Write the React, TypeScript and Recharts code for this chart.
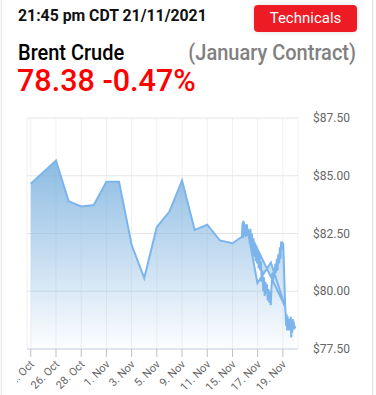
import React from 'react';
import { AreaChart, Area, XAxis, YAxis, CartesianGrid } from 'recharts';

const xTicks = [0, 2, 4, 6, 8, 10, 12, 14, 16, 18, 20];
const xTickLabels = ['24. Oct', '26. Oct', '28. Oct', '1. Nov', '3. Nov', '5. Nov', '9. Nov', '11. Nov', '15. Nov', '17. Nov', '19. Nov'];
const yTicks = [77.5, 80, 82.5, 85, 87.5];

// daily closes (trading-day index, price)
const dailyX = [0, 2, 3, 4, 5, 6, 7, 8, 9, 10, 11, 12, 13, 14, 15, 16, 16.75];
const dailyPrice = [84.65, 85.66, 83.9, 83.67, 83.73, 84.74, 84.74, 82.01, 80.57, 82.78, 83.45, 84.8, 82.66, 82.88, 82.2, 82.08, 82.36];

// intraday ticks, first burst
const burstX = [16.8, 16.83, 16.86, 16.89, 16.92, 16.95, 16.99, 17.03, 17.07, 17.11, 17.15, 17.19, 17.23, 17.27];
const burstPrice = [82.95, 82.3, 83.05, 82.5, 83.0, 82.4, 82.9, 82.35, 82.85, 82.45, 82.9, 82.4, 82.7, 82.45];

// later daily closes
const lateX = [17.98, 19.05, 20.18];
const latePrice = [80.35, 81.24, 79.34];

// intraday ticks, remaining session
const tickX = [17.3, 17.36, 17.42, 17.48, 17.54, 17.6, 17.66, 17.72, 17.78, 17.84, 17.9, 17.96, 18.02, 18.08, 18.14, 18.2, 18.26, 18.32, 18.38, 18.44, 18.5, 18.56, 18.62, 18.68, 18.74, 18.8, 18.86, 18.92, 18.98, 19.04, 19.1, 19.16, 19.22, 19.28, 19.34, 19.4, 19.46, 19.52, 19.58, 19.64, 19.7, 19.76, 19.82, 19.86, 19.9, 19.94, 19.98, 20.02, 20.06, 20.1, 20.14, 20.18, 20.22, 20.26, 20.3, 20.34, 20.38, 20.42, 20.46, 20.5, 20.54, 20.58, 20.62, 20.66, 20.7, 20.74, 20.78, 20.82, 20.86, 20.9, 20.94, 20.98];
const tickPrice = [82.6, 82.1, 82.7, 82.0, 82.5, 81.7, 82.3, 81.5, 82.1, 81.3, 81.9, 81.2, 81.7, 81.0, 81.6, 80.9, 81.3, 80.4, 80.9, 80.0, 80.6, 79.8, 80.4, 79.9, 80.3, 79.6, 80.1, 79.5, 80.0, 79.4, 80.2, 80.8, 80.4, 81.0, 80.6, 81.2, 80.8, 81.4, 80.9, 81.6, 81.2, 81.9, 81.4, 82.15, 81.9, 82.15, 81.8, 82.1, 81.6, 80.8, 80.1, 79.4, 79.0, 78.5, 79.0, 78.3, 78.9, 78.4, 78.8, 78.3, 78.7, 78.5, 78.9, 78.0, 78.6, 78.2, 78.8, 78.4, 78.7, 78.35, 78.5, 78.4];

const seqX = [...dailyX, ...burstX, ...lateX, ...tickX];
const seqPrice = [...dailyPrice, ...burstPrice, ...latePrice, ...tickPrice];
const data = seqX.map((x, i) => ({ x, price: seqPrice[i] }));

const FONT = 'Roboto, "Noto Sans", Arial, sans-serif';

const XTick = (props: any) => {
  const { x, y, payload } = props;
  const i = xTicks.indexOf(payload.value);
  const label = i >= 0 ? xTickLabels[i] : '';
  const ax = x + 4;
  const ay = y + 6;
  return (
    <text
      x={ax}
      y={ay}
      textAnchor="end"
      fill="#666666"
      fontSize={11}
      fontFamily={FONT}
      transform={`rotate(-45, ${ax}, ${ay})`}
    >
      {label}
    </text>
  );
};

const YTick = (props: any) => {
  const { x, y, payload } = props;
  return (
    <text x={x} y={y} dy="0.35em" textAnchor="start" fill="#666666" fontSize={12} fontFamily={FONT}>
      {'$' + Number(payload.value).toFixed(2)}
    </text>
  );
};

export default function App() {
  return (
    <div style={{ position: 'absolute', left: 0, top: 0, width: 376, height: 395, overflow: 'hidden', background: '#fff', fontFamily: FONT }}>
      <div style={{ position: 'absolute', left: 1, top: -10, width: 370, height: 420, borderLeft: '1px solid #ececec', borderRight: '1px solid #e2e2e2', boxShadow: '0 0 4px rgba(0,0,0,0.08)' }} />
      <div style={{ position: 'absolute', left: 18, top: 8, fontSize: 15.8, lineHeight: '15.8px', fontWeight: 700, color: '#111', whiteSpace: 'nowrap' }}>
        21:45 pm CDT 21/11/2021
      </div>
      <div style={{ position: 'absolute', left: 254, top: 5, width: 103, height: 27, borderRadius: 4, background: '#ed1c24', color: '#fff', fontSize: 15, lineHeight: '27px', textAlign: 'center', boxShadow: '0 0 6px rgba(0,0,0,0.12)' }}>
        Technicals
      </div>
      <div style={{ position: 'absolute', left: 18, top: 42.5, fontSize: 20, lineHeight: '20px', fontWeight: 500, color: '#000', whiteSpace: 'nowrap', transform: 'scaleY(1.08)', transformOrigin: 'left bottom' }}>
        Brent Crude
      </div>
      <div style={{ position: 'absolute', right: 20, top: 42.5, fontSize: 20, lineHeight: '20px', fontWeight: 500, color: '#808080', whiteSpace: 'nowrap', transform: 'scaleY(1.08)', transformOrigin: 'right bottom' }}>
        (January Contract)
      </div>
      <div style={{ position: 'absolute', left: 17, top: 66, fontSize: 30.5, lineHeight: '30.5px', fontWeight: 500, color: '#ff0000', whiteSpace: 'nowrap' }}>
        78.38 -0.47%
      </div>
      <div style={{ position: 'absolute', left: 17, top: 105, width: 359, height: 290, overflow: 'hidden' }}>
        <AreaChart width={359} height={290} data={data} margin={{ top: 13, right: 0, left: 10, bottom: 0 }}>
          <defs>
            <linearGradient id="fillGrad" x1="0" y1="0" x2="0" y2="1">
              <stop offset="0%" stopColor="#7db2de" stopOpacity={0.88} />
              <stop offset="100%" stopColor="#7fb4e2" stopOpacity={0.02} />
            </linearGradient>
          </defs>
          <CartesianGrid horizontal={false} vertical={true} stroke="#f0f0f0" strokeWidth={1} />
          <CartesianGrid horizontal={true} vertical={false} stroke="#e6e6e6" strokeWidth={1} />
          <XAxis
            dataKey="x"
            type="number"
            domain={[-0.3, 21.2]}
            allowDataOverflow
            ticks={xTicks}
            interval={0}
            height={46}
            stroke="#ccd6eb"
            tickSize={8}
            tickLine={{ stroke: '#c0c0c0' }}
            axisLine={{ stroke: '#ccd6eb' }}
            tick={<XTick />}
          />
          <YAxis
            orientation="right"
            type="number"
            domain={[77.5, 87.5]}
            ticks={yTicks}
            width={78}
            axisLine={false}
            tickLine={false}
            tickSize={0}
            tickMargin={15}
            tick={<YTick />}
          />
          <Area
            type="linear"
            dataKey="price"
            stroke="#7cb5ec"
            strokeWidth={2}
            fill="url(#fillGrad)"
            fillOpacity={1}
            isAnimationActive={false}
            dot={false}
            activeDot={false}
          />
        </AreaChart>
      </div>
    </div>
  );
}
